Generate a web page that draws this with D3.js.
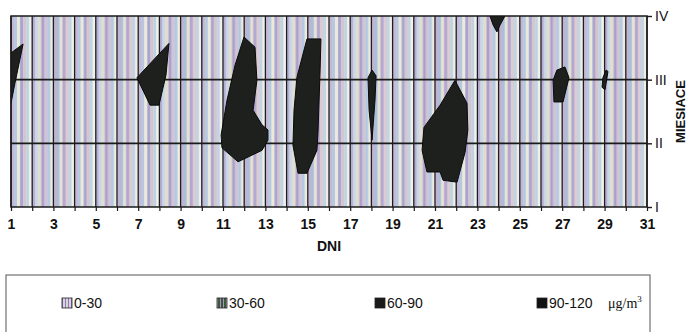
<!DOCTYPE html>
<head>
  <meta charset="utf-8" />
  <script src="https://cdn.jsdelivr.net/npm/d3@7/dist/d3.min.js"></script>
  <style>
    body { margin: 0; background: #fff; }
    svg { display: block; }
    text { font-family: Arial, "Liberation Sans", sans-serif; }
  </style>
</head>
<body>
  <svg width="687" height="332"></svg>
  <script>
    // dni miesiaca i etykiety osi
    const dni = d3.range(1, 32)
    const dniEtykiety = [1, 3, 5, 7, 9, 11, 13, 15, 17, 19, 21, 23, 25, 27, 29, 31]
    const miesiace = [1, 2, 3, 4]
    const miesiaceEtykiety = ['I', 'II', 'III', 'IV']

    // obszary 60-120 ug/m3, punkty [dzien, miesiac]
    const plama1 = [[1, 3.42], [1.57, 3.56], [1.19, 2.95], [1, 2.63]]
    const plama2 = [[6.94, 3.03], [8.45, 3.57], [8.31, 3.07], [7.98, 2.6], [7.56, 2.6]]
    const plama3 = [[11.99, 3.67], [12.51, 3.51], [12.6, 2.99], [12.42, 2.52], [12.84, 2.29], [13.12, 2.21],
                    [13.12, 2.05], [12.84, 1.89], [11.71, 1.71], [10.95, 1.93], [10.91, 2.13], [11.19, 2.68], [11.57, 3.23]]
    const plama4 = [[14.96, 3.64], [15.62, 3.64], [15.58, 3.15], [15.48, 2.16], [15.43, 1.89], [14.96, 1.53],
                    [14.54, 1.53], [14.3, 1.97], [14.35, 2.52], [14.49, 3.04]]
    const plama5 = [[18.03, 3.15], [18.22, 3.06], [18.17, 2.68], [18.03, 2.05], [17.89, 2.52], [17.84, 3.03]]
    const plama6 = [[21.94, 2.99], [22.51, 2.63], [22.55, 2.21], [22.42, 1.86], [22.04, 1.39], [21.38, 1.42],
                    [21.24, 1.55], [20.62, 1.55], [20.39, 1.89], [20.48, 2.25], [21.24, 2.6]]
    const plama7 = [[23.59, 4], [24.3, 4], [24.07, 3.86], [23.92, 3.75], [23.74, 3.86]]
    const plama8 = [[26.75, 3.15], [27.13, 3.2], [27.32, 3.03], [27.04, 2.65], [26.61, 2.65], [26.57, 2.99]]
    const plama9 = [[29.07, 3.15], [29.16, 3.13], [29.02, 2.84], [28.88, 2.88], [28.92, 3.03]]
    const plamy = [plama1, plama2, plama3, plama4, plama5, plama6, plama7, plama8, plama9]

    // legenda
    const legendaEtykiety = ['0-30', '30-60', '60-90', '90-120']
    const legendaX = [62, 217, 375, 537]

    // kolory paskow tla (skan)
    const paski = ['#c8b6d6', '#b4c8df', '#ebe9da', '#a9a4cf', '#d6c4cc', '#bdd3e2', '#f2f1ea',
                   '#b7acd4', '#c8d9e5', '#e2dccc', '#ab9fcb', '#d2c3d6', '#b2c9e0', '#eeece0',
                   '#c4b2cf', '#a9bedb', '#e7e3d3', '#b3a6d1', '#dccbd0', '#c0d4e4', '#f0efe6']

    const margin = { top: 16, left: 11 }
    const width = 636
    const height = 191

    const svg = d3.select('svg')

    const xScale = d3.scaleLinear().domain([1, 31]).range([margin.left, margin.left + width])
    const yScale = d3.scaleLinear().domain([1, 4]).range([margin.top + height, margin.top])
    const dzien = xScale(2) - xScale(1)

    const defs = svg.append('defs')
    const wzor = defs.append('pattern')
      .attr('id', 'tlo')
      .attr('patternUnits', 'userSpaceOnUse')
      .attr('x', margin.left).attr('y', 0)
      .attr('width', dzien * 3).attr('height', 20)
    const pw = dzien * 3 / paski.length
    wzor.selectAll('rect').data(paski).enter().append('rect')
      .attr('x', (d, i) => i * pw).attr('y', 0)
      .attr('width', pw + 0.3).attr('height', 20)
      .attr('fill', d => d)

    defs.append('clipPath').attr('id', 'obszar')
      .append('rect')
      .attr('x', margin.left).attr('y', margin.top)
      .attr('width', width).attr('height', height)

    // tlo w paski
    svg.append('rect')
      .attr('x', margin.left).attr('y', margin.top)
      .attr('width', width).attr('height', height)
      .attr('fill', 'url(#tlo)')

    // pionowe linie dla kazdego dnia
    svg.append('g').selectAll('line').data(dni).enter().append('line')
      .attr('x1', d => xScale(d)).attr('x2', d => xScale(d))
      .attr('y1', margin.top).attr('y2', margin.top + height)
      .attr('stroke', '#1e1e22').attr('stroke-width', 1.3)

    // poziome linie miesiecy
    svg.append('g').selectAll('line').data(miesiace.slice(1, 3)).enter().append('line')
      .attr('x1', margin.left).attr('x2', margin.left + width)
      .attr('y1', d => yScale(d)).attr('y2', d => yScale(d))
      .attr('stroke', '#1a1a1a').attr('stroke-width', 1.6)

    // plamy stezen
    const linia = d3.line()
      .x(d => xScale(d[0])).y(d => yScale(d[1]))
      .curve(d3.curveLinearClosed)
    svg.append('g').attr('clip-path', 'url(#obszar)')
      .selectAll('path').data(plamy).enter().append('path')
      .attr('d', linia)
      .attr('fill', '#1d201c')
      .attr('stroke', '#0a0a0a')
      .attr('stroke-width', 1)

    svg.append('rect')
      .attr('x', margin.left).attr('y', margin.top)
      .attr('width', width).attr('height', height)
      .attr('fill', 'none').attr('stroke', '#1a1a1a').attr('stroke-width', 1.5)

    // os X
    const xAxis = d3.axisBottom(xScale)
      .tickValues(dni)
      .tickSize(4)
      .tickFormat(d => dniEtykiety.includes(d) ? d : '')
    const gx = svg.append('g')
      .attr('transform', `translate(0,${margin.top + height})`)
      .call(xAxis)
    gx.select('.domain').remove()
    gx.selectAll('line').attr('stroke', '#1a1a1a').attr('stroke-width', 1.2)
    gx.selectAll('text')
      .attr('font-size', 14).attr('font-weight', 'bold')
      .attr('fill', '#111').attr('dy', '1.05em')

    // os Y po prawej
    const yAxis = d3.axisRight(yScale)
      .tickValues(miesiace)
      .tickSize(5)
      .tickPadding(3)
      .tickFormat((d, i) => miesiaceEtykiety[i])
    const gy = svg.append('g')
      .attr('transform', `translate(${margin.left + width},0)`)
      .call(yAxis)
    gy.select('.domain').remove()
    gy.selectAll('line').attr('stroke', '#1a1a1a').attr('stroke-width', 1.4)
    gy.selectAll('text')
      .attr('font-size', 14)
      .attr('fill', '#111')
      .style('font-family', '"Liberation Sans Narrow", "Arial Narrow", Arial, sans-serif')

    svg.append('text')
      .attr('x', xScale(16)).attr('y', 251)
      .attr('text-anchor', 'middle')
      .attr('font-size', 14).attr('font-weight', 'bold')
      .attr('fill', '#111')
      .text('DNI')

    svg.append('text')
      .attr('transform', `translate(685,${yScale(2.5)}) rotate(-90)`)
      .attr('text-anchor', 'middle')
      .attr('font-size', 13).attr('font-weight', 'bold')
      .attr('fill', '#111')
      .text('MIESIACE')

    // legenda
    const leg = svg.append('g')
    leg.append('rect')
      .attr('x', 6).attr('y', 275)
      .attr('width', 644).attr('height', 80)
      .attr('fill', '#fff').attr('stroke', '#555').attr('stroke-width', 1)

    defs.append('pattern').attr('id', 'sw0')
      .attr('patternUnits', 'userSpaceOnUse').attr('width', 3).attr('height', 3)
      .call(p => {
        p.append('rect').attr('width', 3).attr('height', 3).attr('fill', '#d9d3e3')
        p.append('rect').attr('width', 1).attr('height', 3).attr('fill', '#8a7aa8')
      })
    defs.append('pattern').attr('id', 'sw1')
      .attr('patternUnits', 'userSpaceOnUse').attr('width', 3).attr('height', 3)
      .call(p => {
        p.append('rect').attr('width', 3).attr('height', 3).attr('fill', '#3b5a3c')
        p.append('rect').attr('width', 1).attr('height', 3).attr('fill', '#a894c0')
      })
    const swFill = ['url(#sw0)', 'url(#sw1)', '#1a1a1a', '#111']

    const items = leg.selectAll('g.item').data(legendaEtykiety).enter().append('g')
      .attr('transform', (d, i) => `translate(${legendaX[i]},303)`)
    items.append('rect')
      .attr('x', 0).attr('y', -5).attr('width', 10).attr('height', 10)
      .attr('fill', (d, i) => swFill[i])
      .attr('stroke', '#222').attr('stroke-width', 0.8)
    items.append('text')
      .attr('x', 12).attr('y', 5)
      .attr('font-size', 14).attr('fill', '#111')
      .text(d => d)

    const jedn = leg.append('text')
      .attr('x', 608).attr('y', 308)
      .attr('font-size', 14).attr('fill', '#111')
      .style('font-family', '"Liberation Serif", "Times New Roman", serif')
    jedn.append('tspan').text('μg/m')
    jedn.append('tspan').attr('dy', -6).attr('font-size', 9).text('3')
  </script>
</body>
